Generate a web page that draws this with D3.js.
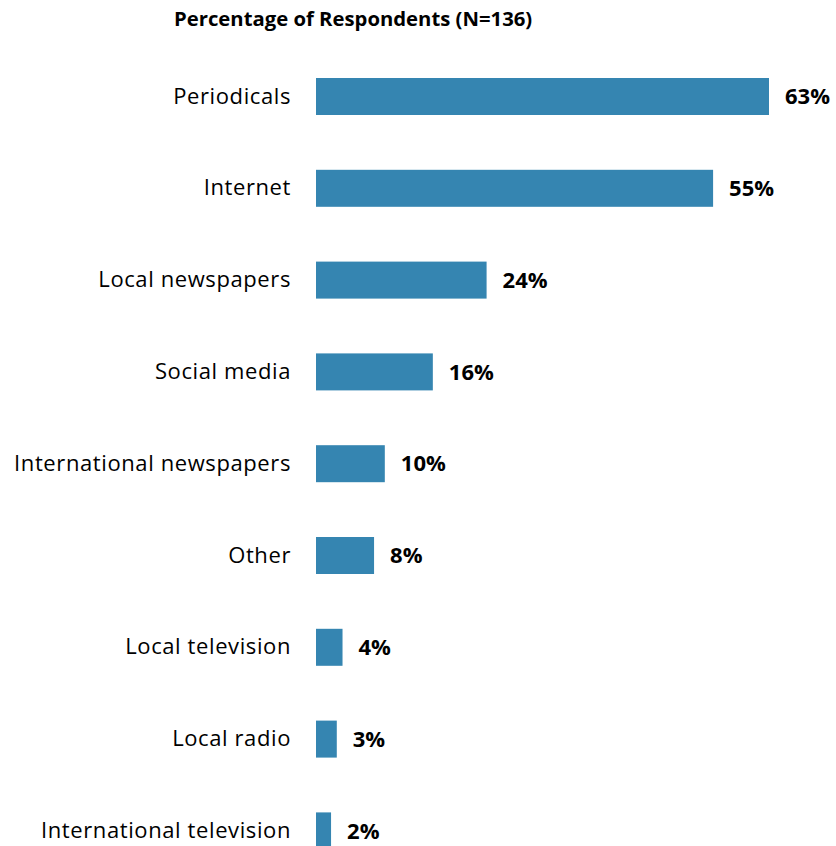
<!DOCTYPE html>
<html>
<head>
<meta charset="utf-8">
<script src="https://cdn.jsdelivr.net/npm/d3@7"></script>
<style>
  html, body { margin: 0; padding: 0; background: #fff; }
  svg { display: block; }
</style>
</head>
<body>
<svg id="chart" width="836" height="846"></svg>
<script>
const categories = [
  "Periodicals", "Internet", "Local newspapers", "Social media",
  "International newspapers", "Other", "Local television", "Local radio",
  "International television"
];
const values = [63.2, 55.4, 23.8, 16.3, 9.6, 8.1, 3.7, 2.9, 2.1];
const title = "Percentage of Respondents (N=136)";

const svg = d3.select("#chart");
const fontFamily = "'Open Sans', 'Noto Sans', sans-serif";

const x = d3.scaleLinear().domain([0, 63.2]).range([316, 769]);
const y = d3.scaleBand().domain(categories).range([50.6, 876.8])
  .paddingInner(0.597).paddingOuter(0.2985);

svg.append("text")
  .attr("x", 174).attr("y", 26)
  .attr("font-family", fontFamily)
  .attr("font-weight", "bold")
  .attr("font-size", 20.3)
  .attr("fill", "#000")
  .text(title);

const g = svg.append("g");
g.selectAll("rect").data(categories).join("rect")
  .attr("x", x(0))
  .attr("y", d => y(d))
  .attr("width", (d, i) => x(values[i]) - x(0))
  .attr("height", y.bandwidth())
  .attr("fill", "#3585b1");

// category axis
const axis = d3.axisLeft(y).tickSize(0).tickPadding(25);
const ax = svg.append("g").attr("transform", `translate(${x(0)},0)`).call(axis);
ax.select(".domain").remove();
ax.selectAll("text")
  .attr("font-family", fontFamily)
  .attr("font-size", 22)
  .attr("letter-spacing", 0.6)
  .attr("fill", "#000");

g.selectAll("text.val").data(categories).join("text")
  .attr("class", "val")
  .attr("x", (d, i) => x(values[i]) + 16)
  .attr("y", d => y(d) + y.bandwidth() / 2)
  .attr("dy", "0.35em")
  .attr("font-family", fontFamily)
  .attr("font-weight", "bold")
  .attr("font-size", 22)
  .attr("fill", "#000")
  .text((d, i) => Math.round(values[i]) + "%");
</script>
</body>
</html>
